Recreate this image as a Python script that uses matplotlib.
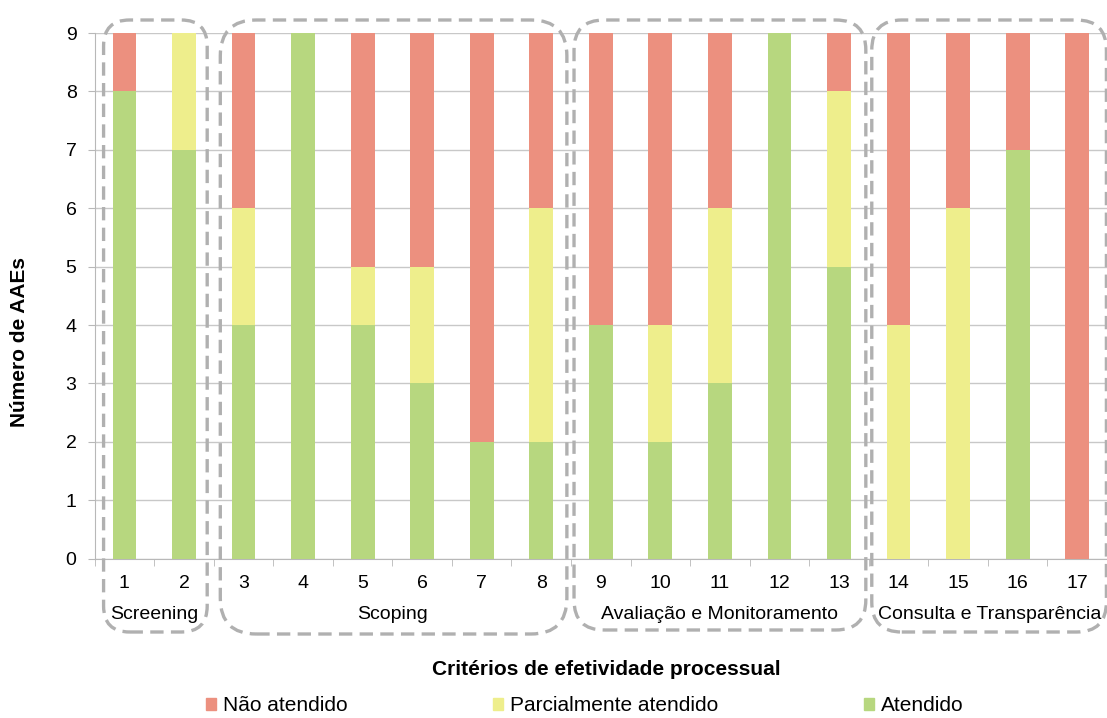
import numpy as np
import matplotlib.pyplot as plt
from matplotlib.patches import FancyBboxPatch, Patch
from matplotlib.transforms import IdentityTransform

plt.rcParams['font.family'] = ['Liberation Sans', 'DejaVu Sans']

criterios = np.arange(1, 18)
atendido = [8, 7, 4, 9, 4, 3, 2, 2, 4, 2, 3, 9, 5, 0, 0, 7, 0]
parcial = [0, 2, 2, 0, 1, 2, 0, 4, 0, 2, 3, 0, 3, 4, 6, 0, 0]
nao_atendido = [1, 0, 3, 0, 4, 4, 7, 3, 5, 5, 3, 0, 1, 5, 3, 2, 9]

grupos = ["Screening", "Scoping", "Avaliação e Monitoramento", "Consulta e Transparência"]
grupo_ini = [1, 3, 9, 14]
grupo_fim = [2, 8, 13, 17]

cor_verde = "#b7d77f"
cor_amarelo = "#eeee8c"
cor_vermelho = "#ec907f"
cor_cinza = "#b0b0b0"

fig = plt.figure(figsize=(11.07, 7.18), dpi=100)
ax = fig.add_axes([0.0855, 0.222, 0.9145, 0.732])

verde = np.array(atendido)
amarelo = np.array(parcial)
vermelho = np.array(nao_atendido)
w = 0.4
ax.bar(criterios, verde, w, color=cor_verde, zorder=3)
ax.bar(criterios, amarelo, w, bottom=verde, color=cor_amarelo, zorder=3)
ax.bar(criterios, vermelho, w, bottom=verde + amarelo, color=cor_vermelho, zorder=3)

ax.set_xlim(0.5, 17.5)
ax.set_ylim(0, 9)
ax.set_yticks(range(10))
ax.yaxis.grid(True, color="#c8c8c8", linewidth=1)
ax.set_axisbelow(True)
for s in ["top", "right"]:
    ax.spines[s].set_visible(False)
for s in ["left", "bottom"]:
    ax.spines[s].set_color("#b8b8b8")

ax.set_xticks(criterios)
ax.set_xticklabels([str(c) for c in criterios])
ax.set_xticks(np.arange(0.5, 18, 1), minor=True)
ax.tick_params(axis="x", which="major", length=0, pad=12, labelsize=14)
ax.tick_params(axis="x", which="minor", length=5, color="#b8b8b8")
ax.tick_params(axis="y", length=5, color="#b8b8b8", labelsize=14, pad=8)

# títulos dos eixos
fig.text(0.018, 0.524, "Número de AAEs", rotation=90, ha="center", va="center",
         fontsize=15, fontweight="bold")
fig.text(0.548, 0.068, "Critérios de efetividade processual", ha="center",
         va="center", fontsize=15, fontweight="bold")

# nomes dos grupos abaixo dos números
fig.canvas.draw()
to_px = ax.transData
for nome, a, b in zip(grupos, grupo_ini, grupo_fim):
    cx = (a + b) / 2
    if nome == "Consulta e Transparência":
        cx = (a - 0.45 + 17.5) / 2
    ax.text(cx, -0.95, nome, ha="center", va="center", fontsize=14,
            clip_on=False)

# caixas tracejadas em volta de cada grupo
margens = [(0.35, 0.39), (0.39, 0.43), (0.45, 0.45), (0.45, 0.49)]
fundos = [86, 84, 88, 86]
raios = [26, 36, 30, 30]
for (a, b), (ml, mr), fundo, r in zip(zip(grupo_ini, grupo_fim), margens, fundos, raios):
    x0 = to_px.transform((a - ml, 0))[0]
    x1 = to_px.transform((b + mr, 0))[0]
    caixa = FancyBboxPatch((x0, fundo), x1 - x0, 698 - fundo,
                           boxstyle=f"round,pad=0,rounding_size={r}",
                           transform=IdentityTransform(), fill=False,
                           edgecolor=cor_cinza, linewidth=2.4,
                           linestyle=(0, (4, 2.2)), zorder=5)
    fig.patches.append(caixa)

legenda = [Patch(color=cor_vermelho, label="Não atendido"),
           Patch(color=cor_amarelo, label="Parcialmente atendido"),
           Patch(color=cor_verde, label="Atendido")]
fig.legend(handles=legenda, loc="lower center", bbox_to_anchor=(0.528, -0.022),
           ncol=3, frameon=False, fontsize=15, handlelength=0.5,
           handleheight=0.5, handletextpad=0.3, columnspacing=7.0)

fig.savefig("out.png", dpi=100)
